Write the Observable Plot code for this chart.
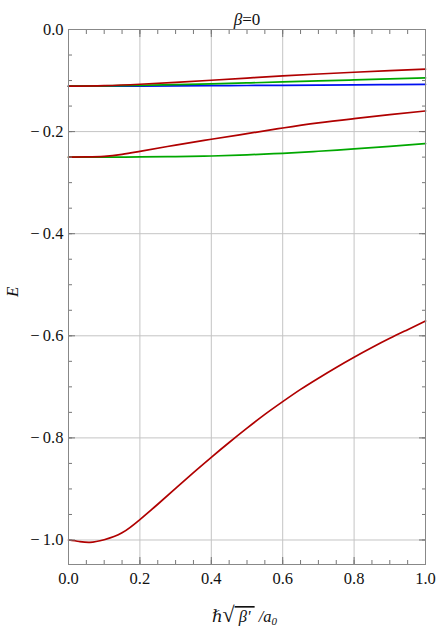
<!DOCTYPE html>
<html>
<head>
<meta charset="utf-8">
<script src="https://cdn.jsdelivr.net/npm/d3@7"></script>
<script src="https://cdn.jsdelivr.net/npm/@observablehq/plot@0.6"></script>
<style>
  html, body { margin: 0; padding: 0; background: #fff; }
  #chart svg { display: block; }
  #chart svg, #chart svg text { font-family: "Liberation Serif", "DejaVu Serif", serif !important; }
</style>
</head>
<body>
<div id="chart"></div>
<script>
// ---- data ----
const x1 = [0, 0.03, 0.06, 0.1, 0.15, 0.2, 0.25, 0.3, 0.35, 0.4, 0.45, 0.5, 0.55, 0.6, 0.65, 0.7, 0.75, 0.8, 0.85, 0.9, 0.95, 1.0];
const red1 = [-1.0, -1.003, -1.0047, -0.9995, -0.986, -0.960, -0.930, -0.899, -0.868, -0.838, -0.809, -0.781, -0.754, -0.729, -0.705, -0.683, -0.662, -0.642, -0.623, -0.605, -0.588, -0.571];

const x2 = [0, 0.05, 0.1, 0.15, 0.2, 0.3, 0.4, 0.5, 0.6, 0.7, 0.8, 0.9, 1.0];
const red2 = [-0.25, -0.2496, -0.2485, -0.2445, -0.2386, -0.2265, -0.215, -0.204, -0.193, -0.183, -0.1746, -0.1667, -0.1596];
const green2 = [-0.25, -0.25, -0.25, -0.2499, -0.2497, -0.249, -0.2478, -0.2455, -0.2425, -0.2385, -0.234, -0.229, -0.2235];

const x3 = [0, 0.1, 0.2, 0.3, 0.4, 0.5, 0.6, 0.7, 0.8, 0.9, 1.0];
const red3 = [-0.1111, -0.1100, -0.1073, -0.1035, -0.0994, -0.0952, -0.0910, -0.0872, -0.0837, -0.0806, -0.0778];
const green3 = [-0.1111, -0.1105, -0.1093, -0.1080, -0.1066, -0.1047, -0.1027, -0.1008, -0.0988, -0.0968, -0.0949];
const blue3 = [-0.1111, -0.1110, -0.1108, -0.1104, -0.1100, -0.1097, -0.1093, -0.1089, -0.1085, -0.1079, -0.1073];

const xMajor = [0, 0.2, 0.4, 0.6, 0.8, 1.0];
const yMajor = [-1.0, -0.8, -0.6, -0.4, -0.2, 0.0];
const xMinor = d3.range(0, 21).map(i => i * 0.05);
const yMinor = d3.range(0, 21).map(i => -i * 0.05);

const titleText = "β=0";
const yLabel = "E";

// ---- build series table ----
const series = [
  {name: "red1", color: "#b00000", xs: x1, ys: red1},
  {name: "green2", color: "#00a800", xs: x2, ys: green2},
  {name: "red2", color: "#b00000", xs: x2, ys: red2},
  {name: "blue3", color: "#0010f0", xs: x3, ys: blue3},
  {name: "green3", color: "#00a800", xs: x3, ys: green3},
  {name: "red3", color: "#b00000", xs: x3, ys: red3}
];

const font = "Liberation Serif, DejaVu Serif, serif";
const W = 436, H = 631;
const mT = 29, mB = 67, mL = 68, mR = 11;

const axisCommon = {tickFormat: () => "", stroke: "#777", strokeWidth: 1, label: null};
const fmt = d3.format(".1f");
const yFmt = d => d < 0 ? "\u2212\u2009" + fmt(-d) : fmt(d);

const lineMarks = series.map(s =>
  Plot.line(s.xs.map((x, i) => ({x, y: s.ys[i]})), {
    x: "x", y: "y", stroke: s.color, strokeWidth: 1.7, curve: "natural"
  })
);

const chart = Plot.plot({
  width: W,
  height: H,
  marginTop: mT,
  marginBottom: mB,
  marginLeft: mL,
  marginRight: mR,
  style: {fontFamily: font, fontSize: "16px", color: "#111", background: "#fff"},
  x: {domain: [0, 1]},
  y: {domain: [-1.048, 0]},
  marks: [
    Plot.gridX(xMajor, {stroke: "#c4c4c4", strokeOpacity: 1, strokeWidth: 1}),
    Plot.gridY(yMajor, {stroke: "#c4c4c4", strokeOpacity: 1, strokeWidth: 1}),
    ...lineMarks,
    Plot.axisX(xMinor, {...axisCommon, anchor: "bottom", tickSize: -4}),
    Plot.axisX(xMinor, {...axisCommon, anchor: "top", tickSize: -4}),
    Plot.axisX(xMajor, {...axisCommon, anchor: "bottom", tickSize: -7}),
    Plot.axisX(xMajor, {...axisCommon, anchor: "top", tickSize: -7}),
    Plot.axisY(yMinor.filter(v => v >= -1.048), {...axisCommon, anchor: "left", tickSize: -4}),
    Plot.axisY(yMinor.filter(v => v >= -1.048), {...axisCommon, anchor: "right", tickSize: -4}),
    Plot.axisY(yMajor, {...axisCommon, anchor: "left", tickSize: -7}),
    Plot.axisY(yMajor, {...axisCommon, anchor: "right", tickSize: -7}),
    Plot.axisX(xMajor, {anchor: "bottom", tickSize: 0, tickPadding: 8, tickFormat: fmt, label: null, fontSize: 16.5, fill: "#111"}),
    Plot.axisY(yMajor, {anchor: "left", tickSize: 0, tickPadding: 5, tickFormat: yFmt, label: null, fontSize: 16.5, fill: "#111"}),
    Plot.frame({stroke: "#888", strokeWidth: 1}),
    Plot.text([titleText], {frameAnchor: "top", dy: -17, text: d => d, fontSize: 17, fill: "#111"}),
    Plot.text([yLabel], {frameAnchor: "left", dx: -56, rotate: -90, text: d => d, fontSize: 17, fontStyle: "italic", fill: "#111"})
  ]
});

const svg = d3.select(chart);

// italicize β in the title
svg.selectAll("text").each(function() {
  const t = d3.select(this);
  if (t.text() === titleText) {
    t.text("");
    t.append("tspan").attr("font-style", "italic").text("β");
    t.append("tspan").text("=0");
  }
});

// x-axis label: ℏ√β′ /a₀ (with radical overline)
const cx = mL + (W - mL - mR) / 2;
const lab = svg.append("text")
  .attr("x", cx - 2).attr("y", 622)
  .attr("text-anchor", "middle")
  .attr("font-size", 16.5)
  .attr("fill", "#111");
lab.append("tspan").attr("font-style", "italic").text("ℏ");
lab.append("tspan").attr("font-size", 22).text("√");
lab.append("tspan").attr("font-style", "italic").attr("text-decoration", "overline").text(" β' ");
lab.append("tspan").attr("font-style", "italic").text(" /a");
lab.append("tspan").attr("font-style", "italic").attr("font-size", 11).attr("dy", 3).text("0");

svg.selectAll("text").attr("font-family", font);

document.getElementById("chart").appendChild(chart);
</script>
</body>
</html>
